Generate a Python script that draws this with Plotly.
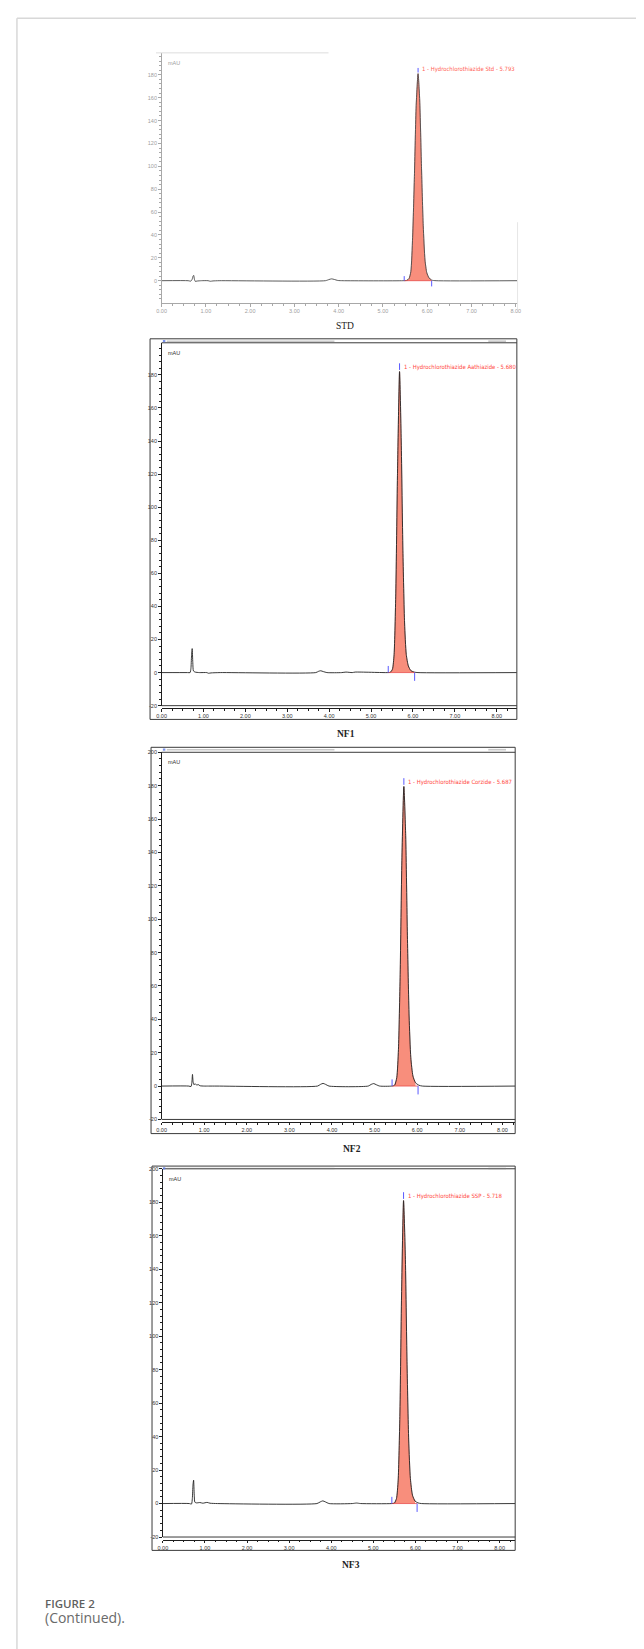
import plotly.graph_objects as go

W, H = 644, 1649

# ---------------- data ----------------
panel_names = ["STD", "NF1", "NF2", "NF3"]
peak_labels = [
    "1 - Hydrochlorothiazide Std - 5.793",
    "1 - Hydrochlorothiazide Aathiazide - 5.680",
    "1 - Hydrochlorothiazide Corzide - 5.687",
    "1 - Hydrochlorothiazide SSP - 5.718",
]
apex_time = [5.793, 5.680, 5.687, 5.718]
apex_mau = [181.0, 182.0, 179.5, 181.0]
peak_start = [5.48, 5.41, 5.41, 5.44]
peak_end = [6.10, 6.04, 6.02, 6.04]

y_tick_values = [-20, 0, 20, 40, 60, 80, 100, 120, 140, 160, 180, 200]
y_tick_labels = ["-20", "0", "20", "40", "60", "80", "100", "120", "140", "160", "180", "200"]
x_tick_values = [0, 1, 2, 3, 4, 5, 6, 7, 8]
x_tick_labels = ["0.00", "1.00", "2.00", "3.00", "4.00", "5.00", "6.00", "7.00", "8.00"]

std_time = [0.00, 0.60, 0.66, 0.69, 0.71, 0.725, 0.74, 0.76, 0.80, 0.90, 1.05, 1.10, 1.16, 1.30,
            3.70, 3.78, 3.84, 3.90, 3.98, 4.10, 5.45, 5.54, 5.59, 5.63, 5.67, 5.71, 5.75, 5.793,
            5.83, 5.87, 5.91, 5.95, 5.99, 6.04, 6.10, 6.20, 8.04]
std_mau = [0.0, 0.0, -0.4, 1.2, 4.0, 4.7, 1.5, -0.6, -0.3, 0.0, 0.0, -0.5, -0.2, 0.0,
           0.0, 1.0, 1.6, 1.1, 0.2, 0.0, 0.0, 0.3, 2.0, 8.0, 38.0, 91.0, 153.0, 181.0,
           158.0, 100.0, 48.0, 18.0, 7.0, 2.5, 0.5, 0.0, 0.0]

nf1_time = [0.00, 0.62, 0.68, 0.70, 0.715, 0.73, 0.745, 0.76, 0.80, 0.90, 1.08, 1.12, 1.18, 1.40,
            3.68, 3.75, 3.80, 3.86, 3.95, 4.30, 4.40, 4.55, 4.62, 5.40, 5.46, 5.51, 5.55, 5.59,
            5.63, 5.68, 5.72, 5.76, 5.80, 5.84, 5.89, 5.95, 6.03, 6.12, 8.48]
nf1_mau = [0.0, 0.0, 0.0, 2.5, 10.0, 14.5, 6.0, 1.0, 0.3, 0.0, 0.0, -0.4, -0.2, 0.0,
           0.0, 0.8, 1.1, 0.6, 0.0, 0.0, 0.3, 0.0, 0.3, 0.0, 0.2, 2.0, 11.0, 48.0,
           119.0, 182.0, 140.0, 74.0, 30.0, 11.0, 4.0, 1.2, 0.3, 0.0, 0.0]

nf2_time = [0.00, 0.64, 0.69, 0.71, 0.725, 0.74, 0.76, 0.79, 0.82, 0.86, 0.90, 1.00, 1.10, 1.30,
            3.66, 3.73, 3.79, 3.85, 3.93, 4.85, 4.92, 4.98, 5.04, 5.12, 5.40, 5.47, 5.52, 5.56,
            5.60, 5.64, 5.687, 5.73, 5.77, 5.81, 5.85, 5.90, 5.96, 6.04, 6.12, 8.30]
nf2_mau = [0.0, 0.0, -0.3, 2.0, 7.0, 2.5, 0.8, 1.4, 0.6, 0.9, 0.2, 0.0, 0.0, 0.0,
           0.0, 1.0, 1.6, 1.0, 0.0, 0.0, 1.0, 1.5, 0.8, 0.0, 0.0, 0.5, 5.0, 22.0,
           67.0, 135.0, 179.5, 150.0, 90.0, 42.0, 17.0, 6.0, 2.0, 0.5, 0.0, 0.0]

nf3_time = [0.00, 0.63, 0.68, 0.70, 0.715, 0.73, 0.745, 0.76, 0.80, 0.88, 0.95, 1.05, 1.12, 1.30,
            3.66, 3.74, 3.80, 3.86, 3.95, 4.50, 4.60, 4.70, 5.44, 5.50, 5.55, 5.59, 5.63, 5.67,
            5.718, 5.76, 5.80, 5.84, 5.88, 5.93, 5.99, 6.06, 6.14, 8.37]
nf3_mau = [0.0, 0.0, -0.3, 3.0, 11.0, 14.0, 5.0, 0.8, 0.4, 0.6, 0.2, 0.7, 0.2, 0.0,
           0.0, 1.0, 1.6, 1.0, 0.0, 0.0, 0.3, 0.0, 0.0, 0.3, 3.0, 14.0, 52.0, 124.0,
           181.0, 148.0, 85.0, 38.0, 15.0, 5.0, 1.5, 0.4, 0.0, 0.0]

all_time = [std_time, nf1_time, nf2_time, nf3_time]
all_mau = [std_mau, nf1_mau, nf2_mau, nf3_mau]

# ---------------- layout (pixel geometry) ----------------
panels = [
    dict(x0=150.7, x1=511.7, ytop=42.0, ybot=293.3, xmax=8.04, ymin=-19.7, ymax=199.2,
         axis_y=None, frame=None, label_x=336.7, label_y=316.0, faded=True),
    dict(x0=150.7, x1=511.0, ytop=333.0, ybot=697.2, xmax=8.48, ymin=-20.0, ymax=199.4,
         axis_y=699.8, frame=(139.0, 329.0, 511.0, 711.0), label_x=338.0, label_y=725.7, faded=False),
    dict(x0=150.7, x1=509.3, ytop=744.0, ybot=1112.5, xmax=8.30, ymin=-20.0, ymax=200.0,
         axis_y=1115.0, frame=(140.0, 739.0, 509.3, 1126.7), label_x=343.3, label_y=1141.7, faded=False),
    dict(x0=152.0, x1=509.3, ytop=1162.0, ybot=1531.6, xmax=8.37, ymin=-20.0, ymax=200.0,
         axis_y=1534.2, frame=(141.0, 1159.3, 509.3, 1545.0), label_x=342.3, label_y=1559.3, faded=False),
]


def px(x):
    return x / W


def py(y):
    return 1 - y / H


fig = go.Figure()
shapes = []
annotations = []
FILL = "rgb(248,142,124)"
RED = "rgb(255,70,60)"
BLUE = "rgb(90,90,255)"

for i, p in enumerate(panels):
    n = i + 1
    xa = "x" if n == 1 else f"x{n}"
    ya = "y" if n == 1 else f"y{n}"
    axc = "#a8a8a8" if p["faded"] else "#1e1e1e"
    txc = "#a0a0a0" if p["faded"] else "#333333"
    linec = "#4a4a4a" if p["faded"] else "#222222"
    t = all_time[i]
    v = all_mau[i]

    # filled main peak
    sel = [k for k in range(len(t)) if peak_start[i] <= t[k] <= peak_end[i]]
    fig.add_trace(go.Scatter(
        x=[t[k] for k in sel], y=[v[k] for k in sel], xaxis=xa, yaxis=ya,
        mode="lines", line=dict(color="rgba(200,80,70,0.6)", width=0.6, shape="spline", smoothing=0.6),
        fill="tozeroy", fillcolor=FILL, hoverinfo="skip", showlegend=False))
    # chromatogram trace
    fig.add_trace(go.Scatter(
        x=t, y=v, xaxis=xa, yaxis=ya, mode="lines",
        line=dict(color=linec, width=0.9, shape="spline", smoothing=0.6),
        showlegend=False))
    # baseline of integrated peak
    fig.add_trace(go.Scatter(
        x=[peak_start[i], peak_end[i]], y=[0, 0], xaxis=xa, yaxis=ya, mode="lines",
        line=dict(color="rgb(230,60,60)", width=0.7), showlegend=False))
    # integration markers (start above, end below baseline) and apex marker
    fig.add_trace(go.Scatter(
        x=[peak_start[i], peak_start[i], None, peak_end[i], peak_end[i], None, apex_time[i], apex_time[i]],
        y=[0, 4, None, 0, -5, None, apex_mau[i] + 1, apex_mau[i] + 5],
        xaxis=xa, yaxis=ya, mode="lines", line=dict(color=BLUE, width=1), showlegend=False))

    annotations.append(dict(
        x=apex_time[i], y=apex_mau[i], xref=xa, yref=ya, text=peak_labels[i],
        showarrow=False, xanchor="left", yanchor="middle", xshift=2, yshift=4,
        font=dict(family="Liberation Sans Narrow, DejaVu Sans Condensed, Arial Narrow, sans-serif",
                  size=5.9, color=RED if not p["faded"] else "rgb(255,95,85)")))
    annotations.append(dict(
        x=0, y=1, xref=f"{xa} domain", yref=f"{ya} domain", text="mAU", showarrow=False,
        xanchor="left", yanchor="middle", xshift=4, yshift=-10,
        font=dict(family="Liberation Sans", size=5.5, color=txc)))
    annotations.append(dict(
        x=px(p["label_x"]), y=py(p["label_y"]), xref="paper", yref="paper", text=panel_names[i]
        if p["faded"] else f"<b>{panel_names[i]}</b>", showarrow=False, xanchor="center", yanchor="middle",
        font=dict(family="Liberation Serif, Times New Roman, serif", size=9.5, color="#222222")))

    xaxis = dict(
        domain=[px(p["x0"]), px(p["x1"])], range=[0, p["xmax"]],
        tickvals=x_tick_values, ticktext=x_tick_labels,
        showline=True, linecolor=axc, linewidth=1, ticks="outside", ticklen=2.5, tickwidth=0.8,
        tickcolor=axc, tickfont=dict(family="Liberation Sans", size=5.5, color=txc),
        showgrid=False, zeroline=False,
        minor=dict(tickmode="linear", tick0=0, dtick=0.25, ticks="outside", ticklen=1.8,
                   tickcolor=axc, showgrid=False),
    )
    if p["axis_y"] is None:
        xaxis["anchor"] = ya
    else:
        xaxis["anchor"] = "free"
        xaxis["position"] = py(p["axis_y"])
    yaxis = dict(
        domain=[py(p["ybot"]), py(p["ytop"])], range=[p["ymin"], p["ymax"]], anchor=xa,
        tickvals=y_tick_values, ticktext=y_tick_labels,
        showline=True, linecolor=axc, linewidth=1, ticks="outside", ticklen=2.5, tickwidth=0.8,
        tickcolor=axc, tickfont=dict(family="Liberation Sans", size=5.5, color=txc),
        showgrid=False, zeroline=False,
        minor=dict(tickmode="linear", tick0=0, dtick=4, ticks="outside", ticklen=1.5,
                   tickcolor=axc, showgrid=False),
    )
    fig.update_layout(**{("xaxis" if n == 1 else f"xaxis{n}"): xaxis,
                         ("yaxis" if n == 1 else f"yaxis{n}"): yaxis})

    if p["frame"] is not None:
        fx0, fy0, fx1, fy1 = p["frame"]
        shapes.append(dict(type="rect", xref="paper", yref="paper", x0=px(fx0), x1=px(fx1),
                           y0=py(fy1), y1=py(fy0), line=dict(color="#3a3a3a", width=1)))
        # plot box top and bottom lines
        shapes.append(dict(type="line", xref="paper", yref="paper", x0=px(p["x0"]), x1=px(fx1),
                           y0=py(p["ytop"]), y1=py(p["ytop"]), line=dict(color="#3a3a3a", width=1)))
        shapes.append(dict(type="line", xref="paper", yref="paper", x0=px(p["x0"]), x1=px(fx1),
                           y0=py(p["ybot"]), y1=py(p["ybot"]), line=dict(color="#3a3a3a", width=1)))
        # title bar (illegible report header)
        shapes.append(dict(type="rect", xref="paper", yref="paper", x0=px(156), x1=px(326),
                           y0=py(fy0 + 3.2), y1=py(fy0 + 1.6), line=dict(width=0),
                           fillcolor="rgba(120,120,120,0.4)"))
        shapes.append(dict(type="rect", xref="paper", yref="paper", x0=px(482), x1=px(500),
                           y0=py(fy0 + 3.2), y1=py(fy0 + 1.6), line=dict(width=0),
                           fillcolor="rgba(120,120,120,0.4)"))
        shapes.append(dict(type="rect", xref="paper", yref="paper", x0=px(152), x1=px(154.5),
                           y0=py(fy0 + 3.4), y1=py(fy0 + 1.2), line=dict(width=0),
                           fillcolor="rgba(90,120,230,0.8)"))
    else:
        shapes.append(dict(type="line", xref="paper", yref="paper", x0=px(145), x1=px(320),
                           y0=py(p["ytop"]), y1=py(p["ytop"]), line=dict(color="#dddddd", width=1)))
        shapes.append(dict(type="line", xref="paper", yref="paper", x0=px(p["x1"]), x1=px(p["x1"]),
                           y0=py(p["ybot"] + 6), y1=py(p["ytop"] + 170), line=dict(color="#e6e6e6", width=1)))

# outer figure border
shapes.append(dict(type="line", xref="paper", yref="paper", x0=px(4), x1=1, y0=py(7.3), y1=py(7.3),
                   line=dict(color="#d8d8d8", width=1.5)))
shapes.append(dict(type="line", xref="paper", yref="paper", x0=px(4), x1=px(4), y0=0, y1=py(7.3),
                   line=dict(color="#d8d8d8", width=1.5)))

annotations.append(dict(x=px(30), y=py(1598), xref="paper", yref="paper", text="FIGURE 2",
                        showarrow=False, xanchor="left", yanchor="middle",
                        font=dict(family="Open Sans", size=11.5, color="#5f5f5f", weight=600)))
annotations.append(dict(x=px(30), y=py(1612), xref="paper", yref="paper", text="(Continued).",
                        showarrow=False, xanchor="left", yanchor="middle",
                        font=dict(family="Open Sans", size=14, color="#6a6a6a")))

fig.update_layout(width=W, height=H, autosize=False, margin=dict(l=0, r=0, t=0, b=0),
                  paper_bgcolor="white", plot_bgcolor="white", showlegend=False,
                  shapes=shapes, annotations=annotations)

fig.write_html("out.html")
